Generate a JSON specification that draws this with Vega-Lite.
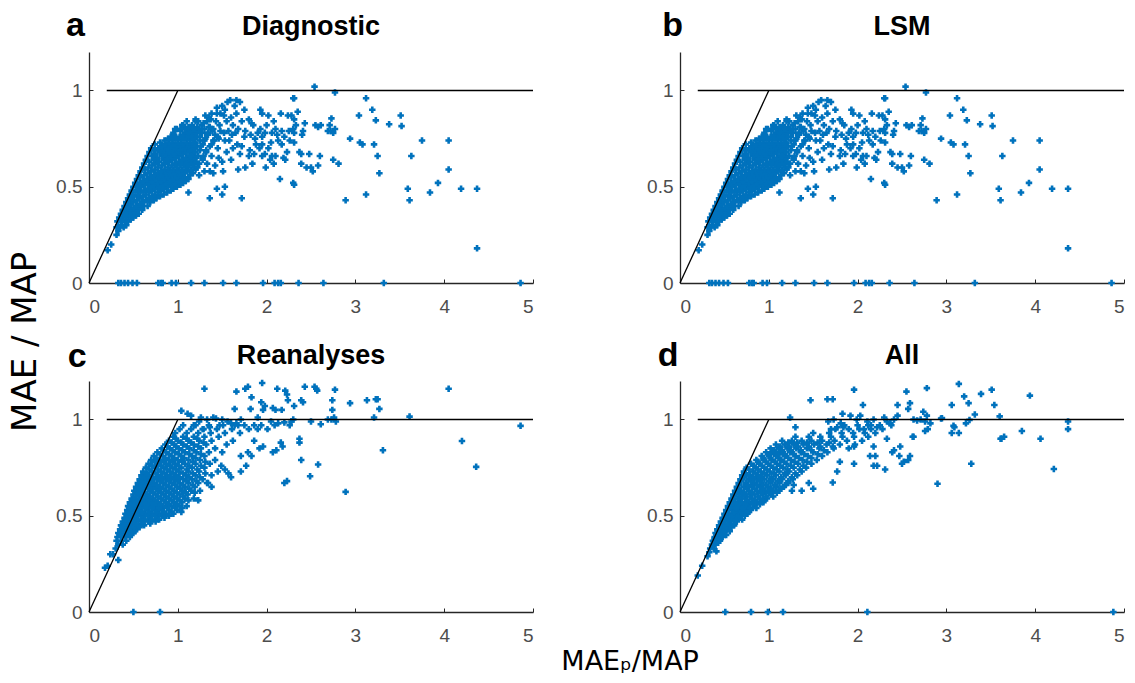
{
"$schema":"https://vega.github.io/schema/vega-lite/v6.json",
"padding":{"left":8,"top":8,"right":2,"bottom":2},
"title":{"text":"MAE / MAP","orient":"left","anchor":"middle","font":"DejaVu Sans","fontSize":34,"fontWeight":"normal","color":"#000000","offset":13},
"config":{
 "view":{"stroke":null},
 "font":"Liberation Sans",
 "axis":{"grid":false,"domainColor":"#262626","domainWidth":1.3,"tickColor":"#262626","tickSize":-4,"labelColor":"#4d4d4d","labelFontSize":19,"labelFont":"Liberation Sans","title":null}
},
"datasets":{
"lines":[{"x":0,"y":0,"x2":1,"y2":1},{"x":0.2,"y":1,"x2":5,"y2":1}],
"labA":[{"t":"a","n":"Diagnostic"}],
"labB":[{"t":"b","n":"LSM"}],
"labC":[{"t":"c","n":"Reanalyses"}],
"labD":[{"t":"d","n":"All"}],
"diag":[
{"x":0.21,"y":0.17},{"x":0.25,"y":0.2},{"x":0.31,"y":0.25},{"x":0.33,"y":0.27},
{"x":0.31,"y":0.29},{"x":0.35,"y":0.29},{"x":0.39,"y":0.29},
{"x":0.33,"y":0.3},{"x":0.37,"y":0.3},{"x":0.42,"y":0.3},
{"x":0.32,"y":0.32},{"x":0.36,"y":0.32},{"x":0.4,"y":0.32},{"x":0.44,"y":0.32},
{"x":0.38,"y":0.33},{"x":0.47,"y":0.33},
{"x":0.34,"y":0.34},{"x":0.42,"y":0.34},{"x":0.5,"y":0.34},
{"x":0.37,"y":0.35},{"x":0.45,"y":0.35},{"x":0.53,"y":0.35},
{"x":0.36,"y":0.36},{"x":0.4,"y":0.36},{"x":0.48,"y":0.36},{"x":0.56,"y":0.36},
{"x":0.43,"y":0.37},{"x":0.51,"y":0.37},
{"x":0.38,"y":0.38},{"x":0.46,"y":0.38},{"x":0.55,"y":0.38},{"x":0.6,"y":0.38},
{"x":0.41,"y":0.39},{"x":0.5,"y":0.39},{"x":0.58,"y":0.39},
{"x":0.4,"y":0.4},{"x":0.44,"y":0.4},{"x":0.53,"y":0.4},{"x":0.62,"y":0.4},{"x":0.66,"y":0.4},
{"x":0.47,"y":0.41},{"x":0.57,"y":0.41},
{"x":0.42,"y":0.42},{"x":0.5,"y":0.42},{"x":0.6,"y":0.42},{"x":0.69,"y":0.42},
{"x":0.45,"y":0.43},{"x":0.54,"y":0.43},{"x":0.64,"y":0.43},{"x":0.73,"y":0.43},
{"x":0.44,"y":0.44},{"x":0.48,"y":0.44},{"x":0.57,"y":0.44},{"x":0.67,"y":0.44},{"x":0.76,"y":0.44},
{"x":0.51,"y":0.45},{"x":0.61,"y":0.45},{"x":0.71,"y":0.45},{"x":0.8,"y":0.45},
{"x":0.46,"y":0.46},{"x":0.55,"y":0.46},{"x":0.64,"y":0.46},{"x":0.74,"y":0.46},{"x":0.84,"y":0.46},
{"x":0.49,"y":0.47},{"x":0.58,"y":0.47},{"x":0.68,"y":0.47},{"x":0.78,"y":0.47},{"x":0.88,"y":0.47},
{"x":0.48,"y":0.48},{"x":0.53,"y":0.48},{"x":0.62,"y":0.48},{"x":0.71,"y":0.48},{"x":0.81,"y":0.48},{"x":0.92,"y":0.48},
{"x":0.56,"y":0.49},{"x":0.66,"y":0.49},{"x":0.75,"y":0.49},{"x":0.85,"y":0.49},{"x":0.95,"y":0.49},
{"x":0.5,"y":0.5},{"x":0.59,"y":0.5},{"x":0.69,"y":0.5},{"x":0.79,"y":0.5},{"x":0.89,"y":0.5},{"x":0.99,"y":0.5},
{"x":0.54,"y":0.51},{"x":0.63,"y":0.51},{"x":0.73,"y":0.51},{"x":0.83,"y":0.51},{"x":0.93,"y":0.51},{"x":1.03,"y":0.51},
{"x":0.52,"y":0.52},{"x":0.57,"y":0.52},{"x":0.67,"y":0.52},{"x":0.77,"y":0.52},{"x":0.87,"y":0.52},{"x":0.97,"y":0.52},{"x":1.06,"y":0.52},
{"x":0.61,"y":0.53},{"x":0.71,"y":0.53},{"x":0.81,"y":0.53},{"x":0.91,"y":0.53},{"x":1.01,"y":0.53},{"x":1.09,"y":0.53},
{"x":0.54,"y":0.54},{"x":0.65,"y":0.54},{"x":0.75,"y":0.54},{"x":0.85,"y":0.54},{"x":0.95,"y":0.54},{"x":1.04,"y":0.54},{"x":1.12,"y":0.54},
{"x":0.58,"y":0.55},{"x":0.69,"y":0.55},{"x":0.79,"y":0.55},{"x":0.89,"y":0.55},{"x":0.99,"y":0.55},{"x":1.08,"y":0.55},
{"x":0.56,"y":0.56},{"x":0.62,"y":0.56},{"x":0.73,"y":0.56},{"x":0.83,"y":0.56},{"x":0.93,"y":0.56},{"x":1.03,"y":0.56},{"x":1.14,"y":0.56},
{"x":0.66,"y":0.57},{"x":0.77,"y":0.57},{"x":0.87,"y":0.57},{"x":0.97,"y":0.57},{"x":1.07,"y":0.57},{"x":1.17,"y":0.57},
{"x":0.58,"y":0.58},{"x":0.7,"y":0.58},{"x":0.81,"y":0.58},{"x":0.91,"y":0.58},{"x":1.01,"y":0.58},{"x":1.11,"y":0.58},
{"x":0.63,"y":0.59},{"x":0.74,"y":0.59},{"x":0.85,"y":0.59},{"x":0.95,"y":0.59},{"x":1.05,"y":0.59},{"x":1.15,"y":0.59},{"x":1.2,"y":0.59},
{"x":0.6,"y":0.6},{"x":0.67,"y":0.6},{"x":0.78,"y":0.6},{"x":0.89,"y":0.6},{"x":0.99,"y":0.6},{"x":1.09,"y":0.6},{"x":1.19,"y":0.6},
{"x":0.71,"y":0.61},{"x":0.82,"y":0.61},{"x":0.93,"y":0.61},{"x":1.03,"y":0.61},{"x":1.13,"y":0.61},
{"x":0.62,"y":0.62},{"x":0.75,"y":0.62},{"x":0.86,"y":0.62},{"x":0.97,"y":0.62},{"x":1.07,"y":0.62},{"x":1.17,"y":0.62},{"x":1.24,"y":0.62},
{"x":0.68,"y":0.63},{"x":0.79,"y":0.63},{"x":0.9,"y":0.63},{"x":1.01,"y":0.63},{"x":1.11,"y":0.63},{"x":1.21,"y":0.63},
{"x":0.64,"y":0.64},{"x":0.73,"y":0.64},{"x":0.84,"y":0.64},{"x":0.94,"y":0.64},{"x":1.05,"y":0.64},{"x":1.15,"y":0.64},
{"x":0.77,"y":0.65},{"x":0.88,"y":0.65},{"x":0.98,"y":0.65},{"x":1.09,"y":0.65},{"x":1.19,"y":0.65},{"x":1.28,"y":0.65},
{"x":0.66,"y":0.66},{"x":0.71,"y":0.66},{"x":0.82,"y":0.66},{"x":0.92,"y":0.66},{"x":1.02,"y":0.66},{"x":1.13,"y":0.66},{"x":1.23,"y":0.66},
{"x":0.75,"y":0.67},{"x":0.86,"y":0.67},{"x":0.96,"y":0.67},{"x":1.06,"y":0.67},{"x":1.16,"y":0.67},
{"x":0.68,"y":0.68},{"x":0.8,"y":0.68},{"x":0.9,"y":0.68},{"x":1.0,"y":0.68},{"x":1.1,"y":0.68},{"x":1.2,"y":0.68},{"x":1.32,"y":0.68},
{"x":0.73,"y":0.69},{"x":0.84,"y":0.69},{"x":0.94,"y":0.69},{"x":1.04,"y":0.69},{"x":1.14,"y":0.69},{"x":1.25,"y":0.69},
{"x":0.7,"y":0.7},{"x":0.78,"y":0.7},{"x":0.88,"y":0.7},{"x":0.98,"y":0.7},{"x":1.08,"y":0.7},{"x":1.18,"y":0.7},
{"x":0.82,"y":0.71},{"x":0.92,"y":0.71},{"x":1.02,"y":0.71},{"x":1.12,"y":0.71},{"x":1.22,"y":0.71},{"x":1.36,"y":0.71},
{"x":0.74,"y":0.72},{"x":0.86,"y":0.72},{"x":0.96,"y":0.72},{"x":1.06,"y":0.72},{"x":1.16,"y":0.72},{"x":1.28,"y":0.72},
{"x":0.8,"y":0.73},{"x":0.9,"y":0.73},{"x":1.0,"y":0.73},{"x":1.1,"y":0.73},{"x":1.2,"y":0.73},
{"x":0.85,"y":0.74},{"x":0.94,"y":0.74},{"x":1.04,"y":0.74},{"x":1.14,"y":0.74},{"x":1.25,"y":0.74},{"x":1.4,"y":0.74},
{"x":0.89,"y":0.75},{"x":0.98,"y":0.75},{"x":1.08,"y":0.75},{"x":1.18,"y":0.75},{"x":1.31,"y":0.75},
{"x":0.92,"y":0.76},{"x":1.02,"y":0.76},{"x":1.12,"y":0.76},{"x":1.22,"y":0.76},{"x":1.45,"y":0.76},
{"x":0.96,"y":0.77},{"x":1.06,"y":0.77},{"x":1.16,"y":0.77},{"x":1.34,"y":0.77},
{"x":0.95,"y":0.78},{"x":1.1,"y":0.78},{"x":1.2,"y":0.78},{"x":1.27,"y":0.78},
{"x":1.03,"y":0.79},{"x":1.14,"y":0.79},{"x":1.24,"y":0.79},{"x":1.39,"y":0.79},
{"x":0.99,"y":0.8},{"x":1.08,"y":0.8},{"x":1.18,"y":0.8},{"x":1.3,"y":0.8},
{"x":1.12,"y":0.81},{"x":1.22,"y":0.81},{"x":1.35,"y":0.81},
{"x":1.05,"y":0.82},{"x":1.16,"y":0.82},{"x":1.27,"y":0.82},
{"x":1.1,"y":0.84},{"x":1.2,"y":0.84},{"x":1.33,"y":0.84},
{"x":1.59,"y":0.95},{"x":1.66,"y":0.95},{"x":1.7,"y":0.94},{"x":1.5,"y":0.92},{"x":1.53,"y":0.9},{"x":1.48,"y":0.88},{"x":1.52,"y":0.87},{"x":1.44,"y":0.91},{"x":1.44,"y":0.88},{"x":1.93,"y":0.9},{"x":1.95,"y":0.88},{"x":2.02,"y":0.87},{"x":2.16,"y":0.88},{"x":2.3,"y":0.96},{"x":2.24,"y":0.87},{"x":2.28,"y":0.87},{"x":1.31,"y":0.87},{"x":1.35,"y":0.86},{"x":1.38,"y":0.88},{"x":1.2,"y":0.85},{"x":1.23,"y":0.84},{"x":1.8,"y":0.85},{"x":1.83,"y":0.83},{"x":1.29,"y":0.83},{"x":1.36,"y":0.81},{"x":1.18,"y":0.8},{"x":1.12,"y":0.78},{"x":1.06,"y":0.82},{"x":0.97,"y":0.8},{"x":1.03,"y":0.8},{"x":1.57,"y":0.79},{"x":1.65,"y":0.78},{"x":1.61,"y":0.77},{"x":1.93,"y":0.8},{"x":1.98,"y":0.78},{"x":1.95,"y":0.76},{"x":2.1,"y":0.8},{"x":2.17,"y":0.79},{"x":2.25,"y":0.79},{"x":2.3,"y":0.8},{"x":1.76,"y":0.79},{"x":1.82,"y":0.77},{"x":1.87,"y":0.75},{"x":2.06,"y":0.78},{"x":2.12,"y":0.77},{"x":1.46,"y":0.75},{"x":1.53,"y":0.74},{"x":1.67,"y":0.72},{"x":1.72,"y":0.71},{"x":1.95,"y":0.72},{"x":2.02,"y":0.7},{"x":2.17,"y":0.72},{"x":2.23,"y":0.68},{"x":1.81,"y":0.69},{"x":1.8,"y":0.66},{"x":1.95,"y":0.66},{"x":2.04,"y":0.64},{"x":2.06,"y":0.66},{"x":2.19,"y":0.65},{"x":2.21,"y":0.64},{"x":2.1,"y":0.66},{"x":1.84,"y":0.62},{"x":1.76,"y":0.6},{"x":1.68,"y":0.59},{"x":2.15,"y":0.54},{"x":2.3,"y":0.52},{"x":1.98,"y":0.67},{"x":1.46,"y":0.65},{"x":1.5,"y":0.63},{"x":1.29,"y":0.66},{"x":1.36,"y":0.58},{"x":1.4,"y":0.57},{"x":1.51,"y":0.58},{"x":1.44,"y":0.49},{"x":1.53,"y":0.5},{"x":1.12,"y":0.47},{"x":1.36,"y":0.44},{"x":1.5,"y":0.46},{"x":1.72,"y":0.44},{"x":1.01,"y":0.68},{"x":1.03,"y":0.69},
{"x":1.25,"y":0.76},{"x":1.3,"y":0.74},{"x":1.34,"y":0.78},{"x":1.4,"y":0.8},{"x":1.42,"y":0.77},{"x":1.47,"y":0.82},{"x":1.55,"y":0.84},{"x":1.6,"y":0.86},{"x":1.62,"y":0.82},{"x":1.68,"y":0.8},{"x":1.72,"y":0.84},{"x":1.75,"y":0.76},{"x":1.58,"y":0.74},{"x":1.62,"y":0.7},{"x":1.55,"y":0.68},{"x":1.45,"y":0.7},{"x":1.38,"y":0.72},{"x":1.32,"y":0.69},{"x":1.26,"y":0.71},{"x":1.28,"y":0.64},{"x":1.33,"y":0.62},{"x":1.22,"y":0.6},{"x":1.24,"y":0.56},{"x":1.3,"y":0.58},{"x":1.42,"y":0.61},{"x":1.38,"y":0.66},{"x":1.52,"y":0.78},{"x":1.43,"y":0.84},{"x":1.37,"y":0.85},{"x":1.66,"y":0.88},{"x":1.75,"y":0.9},{"x":1.85,"y":0.82},{"x":1.9,"y":0.78},{"x":1.88,"y":0.72},{"x":1.7,"y":0.67},{"x":1.6,"y":0.64},{"x":1.64,"y":0.92},{"x":1.56,"y":0.94},{"x":1.48,"y":0.79},{"x":1.27,"y":0.8},{"x":1.33,"y":0.77},{"x":1.41,"y":0.74},{"x":1.18,"y":0.72},{"x":1.15,"y":0.66},{"x":1.1,"y":0.62},{"x":2.0,"y":0.82},{"x":2.08,"y":0.84},{"x":2.13,"y":0.74},{"x":2.2,"y":0.76},{"x":2.26,"y":0.74},{"x":2.05,"y":0.73},{"x":1.92,"y":0.7},{"x":1.86,"y":0.67},{"x":1.99,"y":0.6},{"x":2.08,"y":0.62},
{"x":2.54,"y":1.02},{"x":2.77,"y":0.99},{"x":2.31,"y":0.96},{"x":3.12,"y":0.96},{"x":2.35,"y":0.89},{"x":3.19,"y":0.9},{"x":2.31,"y":0.85},{"x":3.04,"y":0.87},{"x":3.51,"y":0.87},{"x":2.73,"y":0.855},{"x":3.23,"y":0.845},{"x":2.43,"y":0.83},{"x":2.33,"y":0.82},{"x":2.55,"y":0.82},{"x":2.58,"y":0.81},{"x":2.61,"y":0.82},{"x":2.71,"y":0.82},{"x":2.72,"y":0.79},{"x":2.75,"y":0.78},{"x":2.77,"y":0.8},{"x":2.69,"y":0.79},{"x":3.38,"y":0.825},{"x":3.52,"y":0.815},{"x":2.31,"y":0.78},{"x":2.41,"y":0.79},{"x":2.4,"y":0.77},{"x":2.31,"y":0.73},{"x":2.94,"y":0.75},{"x":3.05,"y":0.73},{"x":3.08,"y":0.72},{"x":3.21,"y":0.72},{"x":3.75,"y":0.74},{"x":4.05,"y":0.74},{"x":2.37,"y":0.68},{"x":2.39,"y":0.67},{"x":2.48,"y":0.67},{"x":2.6,"y":0.66},{"x":3.25,"y":0.66},{"x":3.63,"y":0.66},{"x":2.39,"y":0.62},{"x":2.45,"y":0.6},{"x":2.5,"y":0.6},{"x":2.52,"y":0.58},{"x":2.58,"y":0.61},{"x":2.75,"y":0.64},{"x":2.81,"y":0.62},{"x":3.27,"y":0.57},{"x":4.05,"y":0.59},{"x":3.93,"y":0.52},{"x":2.31,"y":0.51},{"x":3.59,"y":0.49},{"x":4.19,"y":0.49},{"x":4.37,"y":0.49},{"x":3.84,"y":0.47},{"x":3.12,"y":0.46},{"x":2.89,"y":0.43},{"x":3.61,"y":0.43},{"x":4.37,"y":0.18},
{"x":0.33,"y":0},{"x":0.36,"y":0},{"x":0.4,"y":0},{"x":0.44,"y":0},{"x":0.49,"y":0},{"x":0.54,"y":0},{"x":0.78,"y":0},{"x":0.81,"y":0},{"x":0.83,"y":0},{"x":0.93,"y":0},{"x":0.98,"y":0},{"x":1.15,"y":0},{"x":1.3,"y":0},{"x":1.51,"y":0},{"x":1.66,"y":0},{"x":1.96,"y":0},{"x":2.09,"y":0},{"x":2.13,"y":0},{"x":2.16,"y":0},{"x":2.36,"y":0},{"x":2.64,"y":0},{"x":3.32,"y":0},{"x":4.86,"y":0}
],
"rean":[
{"x":0.18,"y":0.23},{"x":0.21,"y":0.24},{"x":0.33,"y":0.27},{"x":0.24,"y":0.3},{"x":0.27,"y":0.3},{"x":0.3,"y":0.33},
{"x":0.33,"y":0.35},{"x":0.38,"y":0.35},
{"x":0.31,"y":0.37},{"x":0.36,"y":0.37},{"x":0.42,"y":0.37},
{"x":0.32,"y":0.39},{"x":0.37,"y":0.39},{"x":0.41,"y":0.39},{"x":0.46,"y":0.39},
{"x":0.33,"y":0.41},{"x":0.38,"y":0.41},{"x":0.44,"y":0.41},{"x":0.5,"y":0.41},
{"x":0.35,"y":0.43},{"x":0.4,"y":0.43},{"x":0.47,"y":0.43},{"x":0.53,"y":0.43},
{"x":0.36,"y":0.45},{"x":0.42,"y":0.45},{"x":0.49,"y":0.45},{"x":0.56,"y":0.45},{"x":0.62,"y":0.45},
{"x":0.38,"y":0.47},{"x":0.44,"y":0.47},{"x":0.51,"y":0.47},{"x":0.59,"y":0.47},{"x":0.67,"y":0.47},{"x":0.75,"y":0.47},
{"x":0.4,"y":0.49},{"x":0.46,"y":0.49},{"x":0.53,"y":0.49},{"x":0.61,"y":0.49},{"x":0.69,"y":0.49},{"x":0.77,"y":0.49},
{"x":0.41,"y":0.51},{"x":0.48,"y":0.51},{"x":0.55,"y":0.51},{"x":0.63,"y":0.51},{"x":0.71,"y":0.51},{"x":0.79,"y":0.51},{"x":0.87,"y":0.51},{"x":0.95,"y":0.51},
{"x":0.43,"y":0.53},{"x":0.5,"y":0.53},{"x":0.58,"y":0.53},{"x":0.66,"y":0.53},{"x":0.74,"y":0.53},{"x":0.82,"y":0.53},{"x":0.9,"y":0.53},{"x":0.99,"y":0.53},
{"x":0.44,"y":0.55},{"x":0.52,"y":0.55},{"x":0.6,"y":0.55},{"x":0.68,"y":0.55},{"x":0.76,"y":0.55},{"x":0.84,"y":0.55},{"x":0.93,"y":0.55},{"x":1.02,"y":0.55},{"x":1.1,"y":0.55},
{"x":0.46,"y":0.57},{"x":0.54,"y":0.57},{"x":0.62,"y":0.57},{"x":0.7,"y":0.57},{"x":0.78,"y":0.57},{"x":0.87,"y":0.57},{"x":0.96,"y":0.57},{"x":1.05,"y":0.57},
{"x":0.48,"y":0.59},{"x":0.56,"y":0.59},{"x":0.64,"y":0.59},{"x":0.72,"y":0.59},{"x":0.81,"y":0.59},{"x":0.9,"y":0.59},{"x":0.99,"y":0.59},{"x":1.08,"y":0.59},{"x":1.18,"y":0.59},
{"x":0.5,"y":0.61},{"x":0.58,"y":0.61},{"x":0.66,"y":0.61},{"x":0.75,"y":0.61},{"x":0.84,"y":0.61},{"x":0.93,"y":0.61},{"x":1.02,"y":0.61},{"x":1.11,"y":0.61},
{"x":0.51,"y":0.63},{"x":0.6,"y":0.63},{"x":0.69,"y":0.63},{"x":0.78,"y":0.63},{"x":0.87,"y":0.63},{"x":0.96,"y":0.63},{"x":1.05,"y":0.63},{"x":1.15,"y":0.63},{"x":1.25,"y":0.63},
{"x":0.53,"y":0.65},{"x":0.62,"y":0.65},{"x":0.71,"y":0.65},{"x":0.8,"y":0.65},{"x":0.9,"y":0.65},{"x":0.99,"y":0.65},{"x":1.08,"y":0.65},{"x":1.19,"y":0.65},
{"x":0.55,"y":0.67},{"x":0.64,"y":0.67},{"x":0.73,"y":0.67},{"x":0.83,"y":0.67},{"x":0.93,"y":0.67},{"x":1.02,"y":0.67},{"x":1.12,"y":0.67},{"x":1.23,"y":0.67},{"x":1.33,"y":0.67},
{"x":0.57,"y":0.69},{"x":0.66,"y":0.69},{"x":0.76,"y":0.69},{"x":0.86,"y":0.69},{"x":0.96,"y":0.69},{"x":1.06,"y":0.69},{"x":1.16,"y":0.69},{"x":1.28,"y":0.69},
{"x":0.59,"y":0.71},{"x":0.68,"y":0.71},{"x":0.78,"y":0.71},{"x":0.88,"y":0.71},{"x":0.98,"y":0.71},{"x":1.09,"y":0.71},{"x":1.2,"y":0.71},{"x":1.38,"y":0.71},
{"x":0.61,"y":0.73},{"x":0.71,"y":0.73},{"x":0.81,"y":0.73},{"x":0.91,"y":0.73},{"x":1.01,"y":0.73},{"x":1.12,"y":0.73},{"x":1.24,"y":0.73},{"x":1.45,"y":0.73},
{"x":0.64,"y":0.75},{"x":0.74,"y":0.75},{"x":0.84,"y":0.75},{"x":0.94,"y":0.75},{"x":1.04,"y":0.75},{"x":1.16,"y":0.75},{"x":1.3,"y":0.75},
{"x":0.67,"y":0.77},{"x":0.77,"y":0.77},{"x":0.87,"y":0.77},{"x":0.97,"y":0.77},{"x":1.08,"y":0.77},{"x":1.2,"y":0.77},{"x":1.36,"y":0.77},
{"x":0.7,"y":0.79},{"x":0.8,"y":0.79},{"x":0.9,"y":0.79},{"x":1.0,"y":0.79},{"x":1.12,"y":0.79},{"x":1.25,"y":0.79},{"x":1.42,"y":0.79},
{"x":0.73,"y":0.81},{"x":0.83,"y":0.81},{"x":0.93,"y":0.81},{"x":1.04,"y":0.81},{"x":1.16,"y":0.81},{"x":1.3,"y":0.81},
{"x":0.77,"y":0.83},{"x":0.87,"y":0.83},{"x":0.97,"y":0.83},{"x":1.08,"y":0.83},{"x":1.21,"y":0.83},{"x":1.35,"y":0.83},{"x":1.5,"y":0.83},
{"x":0.82,"y":0.85},{"x":0.91,"y":0.85},{"x":1.01,"y":0.85},{"x":1.13,"y":0.85},{"x":1.26,"y":0.85},{"x":1.42,"y":0.85},
{"x":0.86,"y":0.87},{"x":0.96,"y":0.87},{"x":1.06,"y":0.87},{"x":1.18,"y":0.87},{"x":1.32,"y":0.87},{"x":1.55,"y":0.87},
{"x":0.9,"y":0.89},{"x":1.0,"y":0.89},{"x":1.12,"y":0.89},{"x":1.24,"y":0.89},{"x":1.38,"y":0.89},{"x":1.62,"y":0.89},
{"x":0.95,"y":0.91},{"x":1.06,"y":0.91},{"x":1.18,"y":0.91},{"x":1.3,"y":0.91},{"x":1.46,"y":0.91},
{"x":0.97,"y":0.93},{"x":1.1,"y":0.93},{"x":1.23,"y":0.93},{"x":1.37,"y":0.93},{"x":1.53,"y":0.93},{"x":1.7,"y":0.93},
{"x":1.02,"y":0.95},{"x":1.15,"y":0.95},{"x":1.29,"y":0.95},{"x":1.44,"y":0.95},{"x":1.61,"y":0.95},
{"x":1.06,"y":0.97},{"x":1.2,"y":0.97},{"x":1.35,"y":0.97},{"x":1.51,"y":0.97},{"x":1.68,"y":0.97},
{"x":0.35,"y":0.4},{"x":0.4,"y":0.4},{"x":0.46,"y":0.4},
{"x":0.36,"y":0.42},{"x":0.42,"y":0.42},{"x":0.48,"y":0.42},{"x":0.52,"y":0.42},
{"x":0.38,"y":0.44},{"x":0.44,"y":0.44},{"x":0.51,"y":0.44},{"x":0.57,"y":0.44},
{"x":0.4,"y":0.46},{"x":0.46,"y":0.46},{"x":0.53,"y":0.46},{"x":0.61,"y":0.46},{"x":0.69,"y":0.46},
{"x":0.41,"y":0.48},{"x":0.48,"y":0.48},{"x":0.55,"y":0.48},{"x":0.63,"y":0.48},{"x":0.71,"y":0.48},{"x":0.79,"y":0.48},
{"x":0.43,"y":0.5},{"x":0.5,"y":0.5},{"x":0.58,"y":0.5},{"x":0.66,"y":0.5},{"x":0.74,"y":0.5},{"x":0.82,"y":0.5},{"x":0.9,"y":0.5},
{"x":0.45,"y":0.52},{"x":0.52,"y":0.52},{"x":0.6,"y":0.52},{"x":0.68,"y":0.52},{"x":0.76,"y":0.52},{"x":0.84,"y":0.52},{"x":0.93,"y":0.52},
{"x":0.47,"y":0.54},{"x":0.55,"y":0.54},{"x":0.63,"y":0.54},{"x":0.71,"y":0.54},{"x":0.79,"y":0.54},{"x":0.88,"y":0.54},{"x":0.97,"y":0.54},{"x":1.05,"y":0.54},
{"x":0.49,"y":0.56},{"x":0.57,"y":0.56},{"x":0.65,"y":0.56},{"x":0.73,"y":0.56},{"x":0.81,"y":0.56},{"x":0.9,"y":0.56},{"x":0.99,"y":0.56},
{"x":0.51,"y":0.58},{"x":0.59,"y":0.58},{"x":0.67,"y":0.58},{"x":0.75,"y":0.58},{"x":0.84,"y":0.58},{"x":0.93,"y":0.58},{"x":1.02,"y":0.58},{"x":1.12,"y":0.58},
{"x":0.53,"y":0.6},{"x":0.61,"y":0.6},{"x":0.69,"y":0.6},{"x":0.78,"y":0.6},{"x":0.87,"y":0.6},{"x":0.96,"y":0.6},{"x":1.06,"y":0.6},
{"x":0.55,"y":0.62},{"x":0.63,"y":0.62},{"x":0.72,"y":0.62},{"x":0.81,"y":0.62},{"x":0.9,"y":0.62},{"x":0.99,"y":0.62},{"x":1.09,"y":0.62},{"x":1.19,"y":0.62},
{"x":0.57,"y":0.64},{"x":0.66,"y":0.64},{"x":0.75,"y":0.64},{"x":0.84,"y":0.64},{"x":0.93,"y":0.64},{"x":1.03,"y":0.64},{"x":1.13,"y":0.64},
{"x":0.59,"y":0.66},{"x":0.68,"y":0.66},{"x":0.77,"y":0.66},{"x":0.87,"y":0.66},{"x":0.97,"y":0.66},{"x":1.06,"y":0.66},{"x":1.17,"y":0.66},
{"x":0.61,"y":0.68},{"x":0.7,"y":0.68},{"x":0.8,"y":0.68},{"x":0.9,"y":0.68},{"x":1.0,"y":0.68},{"x":1.1,"y":0.68},{"x":1.21,"y":0.68},
{"x":0.63,"y":0.7},{"x":0.72,"y":0.7},{"x":0.82,"y":0.7},{"x":0.92,"y":0.7},{"x":1.02,"y":0.7},{"x":1.13,"y":0.7},{"x":1.25,"y":0.7},
{"x":0.65,"y":0.72},{"x":0.75,"y":0.72},{"x":0.85,"y":0.72},{"x":0.95,"y":0.72},{"x":1.06,"y":0.72},{"x":1.17,"y":0.72},{"x":1.31,"y":0.72},
{"x":0.68,"y":0.74},{"x":0.78,"y":0.74},{"x":0.88,"y":0.74},{"x":0.98,"y":0.74},{"x":1.1,"y":0.74},{"x":1.22,"y":0.74},
{"x":0.71,"y":0.76},{"x":0.81,"y":0.76},{"x":0.91,"y":0.76},{"x":1.01,"y":0.76},{"x":1.13,"y":0.76},{"x":1.26,"y":0.76},
{"x":0.74,"y":0.78},{"x":0.84,"y":0.78},{"x":0.94,"y":0.78},{"x":1.05,"y":0.78},{"x":1.17,"y":0.78},{"x":1.31,"y":0.78},
{"x":0.76,"y":0.8},{"x":0.86,"y":0.8},{"x":0.96,"y":0.8},{"x":1.07,"y":0.8},{"x":1.2,"y":0.8},
{"x":0.8,"y":0.82},{"x":0.9,"y":0.82},{"x":1.01,"y":0.82},{"x":1.13,"y":0.82},{"x":1.26,"y":0.82},
{"x":0.84,"y":0.84},{"x":0.94,"y":0.84},{"x":1.05,"y":0.84},{"x":1.18,"y":0.84},
{"x":0.88,"y":0.86},{"x":0.98,"y":0.86},{"x":1.1,"y":0.86},{"x":1.23,"y":0.86},
{"x":0.93,"y":0.88},{"x":1.04,"y":0.88},{"x":1.15,"y":0.88},{"x":1.29,"y":0.88},
{"x":0.98,"y":0.9},{"x":1.1,"y":0.9},{"x":1.22,"y":0.9},
{"x":1.3,"y":1.16},{"x":1.95,"y":1.19},{"x":1.66,"y":1.145},{"x":1.76,"y":1.16},{"x":1.79,"y":1.17},{"x":1.83,"y":1.115},{"x":2.12,"y":1.16},{"x":2.21,"y":1.15},{"x":2.23,"y":1.13},{"x":2.43,"y":1.17},{"x":2.54,"y":1.17},{"x":2.56,"y":1.16},{"x":2.57,"y":1.15},{"x":2.77,"y":1.155},{"x":2.24,"y":1.1},{"x":2.39,"y":1.1},{"x":2.41,"y":1.09},{"x":2.74,"y":1.1},{"x":2.74,"y":1.05},{"x":2.94,"y":1.085},{"x":3.13,"y":1.1},{"x":3.23,"y":1.105},{"x":3.25,"y":1.105},{"x":3.27,"y":1.055},{"x":4.05,"y":1.16},{"x":3.61,"y":1.015},{"x":3.21,"y":1.01},{"x":4.86,"y":0.967},{"x":4.2,"y":0.888},{"x":3.31,"y":0.84},{"x":4.36,"y":0.754},{"x":2.89,"y":0.624},{"x":2.58,"y":0.766},{"x":2.49,"y":0.705},{"x":2.39,"y":0.79},{"x":2.37,"y":0.9},{"x":2.37,"y":0.88},{"x":2.2,"y":0.67},{"x":2.23,"y":0.68},{"x":2.61,"y":0.975},{"x":2.5,"y":0.99},{"x":1.94,"y":1.09},{"x":1.98,"y":1.07},{"x":1.96,"y":1.05},{"x":2.07,"y":1.06},{"x":2.1,"y":1.05},{"x":2.17,"y":1.05},{"x":2.31,"y":1.07},{"x":1.64,"y":1.055},{"x":1.82,"y":1.055},{"x":1.04,"y":1.045},{"x":1.11,"y":1.03},{"x":1.26,"y":1.01},{"x":1.43,"y":1.005},{"x":2.69,"y":1.0},{"x":2.73,"y":1.0},{"x":2.76,"y":1.01},{"x":2.78,"y":0.99},{"x":2.3,"y":1.0},{"x":2.28,"y":0.99},{"x":2.2,"y":0.985},{"x":2.26,"y":0.97},{"x":2.09,"y":0.97},{"x":2.01,"y":0.95},{"x":1.86,"y":0.97},{"x":1.9,"y":0.95},{"x":1.94,"y":0.97},{"x":2.05,"y":0.99},{"x":2.13,"y":0.98},{"x":1.71,"y":1.0},{"x":1.66,"y":0.98},{"x":1.75,"y":0.97},{"x":1.8,"y":0.95},{"x":1.9,"y":1.01},{"x":1.56,"y":0.99},{"x":1.6,"y":0.98},{"x":1.64,"y":0.97},{"x":1.86,"y":0.89},{"x":1.92,"y":0.85},{"x":1.96,"y":0.86},{"x":1.79,"y":0.83},{"x":1.83,"y":0.81},{"x":1.71,"y":0.81},{"x":1.77,"y":0.76},{"x":1.71,"y":0.73},{"x":1.49,"y":0.76},{"x":1.53,"y":0.74},{"x":1.57,"y":0.72},{"x":1.6,"y":0.7},{"x":1.34,"y":0.67},{"x":1.38,"y":0.65},{"x":1.23,"y":0.58},{"x":1.04,"y":0.52},{"x":0.85,"y":0.49},{"x":2.07,"y":0.83},{"x":2.11,"y":0.84},{"x":2.16,"y":0.88},{"x":2.18,"y":0.86},
{"x":1.15,"y":1.02},{"x":1.24,"y":0.99},{"x":1.33,"y":1.0},{"x":1.4,"y":1.01},{"x":1.5,"y":1.0},{"x":1.47,"y":0.97},{"x":1.36,"y":0.96},{"x":1.28,"y":0.95},{"x":1.18,"y":0.97},
{"x":0.5,"y":0},{"x":0.8,"y":0}
],
"all":[
{"x":0.2,"y":0.19},{"x":0.25,"y":0.24},{"x":0.31,"y":0.29},{"x":0.33,"y":0.31},{"x":0.41,"y":0.315},
{"x":0.34,"y":0.33},{"x":0.38,"y":0.33},
{"x":0.36,"y":0.35},{"x":0.4,"y":0.35},
{"x":0.37,"y":0.37},{"x":0.41,"y":0.37},{"x":0.45,"y":0.37},
{"x":0.39,"y":0.39},{"x":0.43,"y":0.39},{"x":0.48,"y":0.39},
{"x":0.4,"y":0.41},{"x":0.45,"y":0.41},{"x":0.5,"y":0.41},
{"x":0.42,"y":0.43},{"x":0.47,"y":0.43},{"x":0.53,"y":0.43},
{"x":0.44,"y":0.45},{"x":0.49,"y":0.45},{"x":0.55,"y":0.45},{"x":0.61,"y":0.45},
{"x":0.46,"y":0.47},{"x":0.51,"y":0.47},{"x":0.57,"y":0.47},{"x":0.64,"y":0.47},
{"x":0.48,"y":0.49},{"x":0.53,"y":0.49},{"x":0.6,"y":0.49},{"x":0.67,"y":0.49},
{"x":0.5,"y":0.51},{"x":0.55,"y":0.51},{"x":0.62,"y":0.51},{"x":0.7,"y":0.51},{"x":0.76,"y":0.51},
{"x":0.52,"y":0.53},{"x":0.58,"y":0.53},{"x":0.65,"y":0.53},{"x":0.73,"y":0.53},{"x":0.8,"y":0.53},
{"x":0.54,"y":0.55},{"x":0.6,"y":0.55},{"x":0.67,"y":0.55},{"x":0.75,"y":0.55},{"x":0.84,"y":0.55},
{"x":0.56,"y":0.57},{"x":0.62,"y":0.57},{"x":0.7,"y":0.57},{"x":0.78,"y":0.57},{"x":0.87,"y":0.57},{"x":0.94,"y":0.57},
{"x":0.58,"y":0.59},{"x":0.65,"y":0.59},{"x":0.73,"y":0.59},{"x":0.81,"y":0.59},{"x":0.9,"y":0.59},{"x":0.98,"y":0.59},
{"x":0.6,"y":0.61},{"x":0.67,"y":0.61},{"x":0.75,"y":0.61},{"x":0.84,"y":0.61},{"x":0.93,"y":0.61},{"x":1.02,"y":0.61},
{"x":0.62,"y":0.63},{"x":0.69,"y":0.63},{"x":0.78,"y":0.63},{"x":0.87,"y":0.63},{"x":0.96,"y":0.63},{"x":1.05,"y":0.63},{"x":1.12,"y":0.63},
{"x":0.64,"y":0.65},{"x":0.72,"y":0.65},{"x":0.81,"y":0.65},{"x":0.9,"y":0.65},{"x":0.99,"y":0.65},{"x":1.08,"y":0.65},{"x":1.17,"y":0.65},
{"x":0.66,"y":0.67},{"x":0.74,"y":0.67},{"x":0.83,"y":0.67},{"x":0.92,"y":0.67},{"x":1.02,"y":0.67},{"x":1.12,"y":0.67},{"x":1.22,"y":0.67},
{"x":0.68,"y":0.69},{"x":0.77,"y":0.69},{"x":0.86,"y":0.69},{"x":0.95,"y":0.69},{"x":1.05,"y":0.69},{"x":1.15,"y":0.69},{"x":1.27,"y":0.69},
{"x":0.7,"y":0.71},{"x":0.79,"y":0.71},{"x":0.88,"y":0.71},{"x":0.98,"y":0.71},{"x":1.08,"y":0.71},{"x":1.19,"y":0.71},{"x":1.32,"y":0.71},
{"x":0.72,"y":0.73},{"x":0.82,"y":0.73},{"x":0.91,"y":0.73},{"x":1.01,"y":0.73},{"x":1.12,"y":0.73},{"x":1.23,"y":0.73},{"x":1.37,"y":0.73},
{"x":0.75,"y":0.75},{"x":0.85,"y":0.75},{"x":0.95,"y":0.75},{"x":1.05,"y":0.75},{"x":1.16,"y":0.75},{"x":1.28,"y":0.75},{"x":1.42,"y":0.75},
{"x":0.8,"y":0.77},{"x":0.89,"y":0.77},{"x":0.99,"y":0.77},{"x":1.09,"y":0.77},{"x":1.2,"y":0.77},{"x":1.33,"y":0.77},{"x":1.48,"y":0.77},
{"x":0.86,"y":0.79},{"x":0.94,"y":0.79},{"x":1.03,"y":0.79},{"x":1.13,"y":0.79},{"x":1.25,"y":0.79},{"x":1.38,"y":0.79},{"x":1.54,"y":0.79},
{"x":0.92,"y":0.81},{"x":1.0,"y":0.81},{"x":1.08,"y":0.81},{"x":1.18,"y":0.81},{"x":1.3,"y":0.81},{"x":1.44,"y":0.81},{"x":1.6,"y":0.81},
{"x":0.97,"y":0.83},{"x":1.05,"y":0.83},{"x":1.14,"y":0.83},{"x":1.24,"y":0.83},{"x":1.36,"y":0.83},{"x":1.5,"y":0.83},{"x":1.66,"y":0.83},
{"x":1.02,"y":0.85},{"x":1.11,"y":0.85},{"x":1.21,"y":0.85},{"x":1.31,"y":0.85},{"x":1.43,"y":0.85},{"x":1.57,"y":0.85},{"x":1.73,"y":0.85},{"x":1.9,"y":0.85},
{"x":1.08,"y":0.87},{"x":1.18,"y":0.87},{"x":1.28,"y":0.87},{"x":1.39,"y":0.87},{"x":1.51,"y":0.87},{"x":1.65,"y":0.87},{"x":1.8,"y":0.87},{"x":1.97,"y":0.87},
{"x":1.15,"y":0.89},{"x":1.26,"y":0.89},{"x":1.37,"y":0.89},{"x":1.48,"y":0.89},{"x":1.6,"y":0.89},{"x":1.74,"y":0.89},{"x":1.88,"y":0.89},{"x":2.05,"y":0.89},
{"x":1.3,"y":0.91},{"x":1.45,"y":0.91},{"x":1.58,"y":0.91},{"x":1.7,"y":0.91},{"x":1.83,"y":0.91},{"x":1.96,"y":0.91},{"x":2.12,"y":0.91},
{"x":1.5,"y":0.93},{"x":1.68,"y":0.93},{"x":1.82,"y":0.93},{"x":1.95,"y":0.93},{"x":2.08,"y":0.93},{"x":2.2,"y":0.93},
{"x":1.75,"y":0.95},{"x":1.9,"y":0.95},{"x":2.02,"y":0.95},{"x":2.15,"y":0.95},{"x":2.28,"y":0.95},
{"x":1.85,"y":0.97},{"x":2.0,"y":0.97},{"x":2.12,"y":0.97},{"x":2.25,"y":0.97},{"x":2.38,"y":0.97},
{"x":0.38,"y":0.36},{"x":0.43,"y":0.36},
{"x":0.39,"y":0.38},{"x":0.45,"y":0.38},
{"x":0.41,"y":0.4},{"x":0.47,"y":0.4},{"x":0.52,"y":0.4},
{"x":0.43,"y":0.42},{"x":0.49,"y":0.42},{"x":0.56,"y":0.42},
{"x":0.45,"y":0.44},{"x":0.52,"y":0.44},{"x":0.58,"y":0.44},
{"x":0.47,"y":0.46},{"x":0.54,"y":0.46},{"x":0.61,"y":0.46},
{"x":0.49,"y":0.48},{"x":0.56,"y":0.48},{"x":0.63,"y":0.48},{"x":0.7,"y":0.48},
{"x":0.51,"y":0.5},{"x":0.58,"y":0.5},{"x":0.66,"y":0.5},{"x":0.73,"y":0.5},
{"x":0.53,"y":0.52},{"x":0.61,"y":0.52},{"x":0.69,"y":0.52},{"x":0.77,"y":0.52},
{"x":0.55,"y":0.54},{"x":0.63,"y":0.54},{"x":0.71,"y":0.54},{"x":0.79,"y":0.54},{"x":0.86,"y":0.54},
{"x":0.57,"y":0.56},{"x":0.65,"y":0.56},{"x":0.74,"y":0.56},{"x":0.82,"y":0.56},{"x":0.9,"y":0.56},
{"x":0.59,"y":0.58},{"x":0.67,"y":0.58},{"x":0.76,"y":0.58},{"x":0.85,"y":0.58},{"x":0.94,"y":0.58},
{"x":0.61,"y":0.6},{"x":0.7,"y":0.6},{"x":0.79,"y":0.6},{"x":0.88,"y":0.6},{"x":0.97,"y":0.6},{"x":1.05,"y":0.6},
{"x":0.63,"y":0.62},{"x":0.72,"y":0.62},{"x":0.81,"y":0.62},{"x":0.91,"y":0.62},{"x":1.0,"y":0.62},{"x":1.09,"y":0.62},
{"x":0.65,"y":0.64},{"x":0.75,"y":0.64},{"x":0.84,"y":0.64},{"x":0.94,"y":0.64},{"x":1.03,"y":0.64},{"x":1.13,"y":0.64},
{"x":0.67,"y":0.66},{"x":0.77,"y":0.66},{"x":0.87,"y":0.66},{"x":0.97,"y":0.66},{"x":1.07,"y":0.66},{"x":1.18,"y":0.66},
{"x":0.69,"y":0.68},{"x":0.8,"y":0.68},{"x":0.9,"y":0.68},{"x":1.0,"y":0.68},{"x":1.1,"y":0.68},{"x":1.22,"y":0.68},
{"x":0.72,"y":0.7},{"x":0.82,"y":0.7},{"x":0.92,"y":0.7},{"x":1.03,"y":0.7},{"x":1.14,"y":0.7},{"x":1.26,"y":0.7},
{"x":0.74,"y":0.72},{"x":0.85,"y":0.72},{"x":0.95,"y":0.72},{"x":1.06,"y":0.72},{"x":1.18,"y":0.72},{"x":1.3,"y":0.72},
{"x":0.78,"y":0.74},{"x":0.88,"y":0.74},{"x":0.98,"y":0.74},{"x":1.09,"y":0.74},{"x":1.21,"y":0.74},{"x":1.35,"y":0.74},
{"x":0.83,"y":0.76},{"x":0.92,"y":0.76},{"x":1.02,"y":0.76},{"x":1.13,"y":0.76},{"x":1.25,"y":0.76},{"x":1.39,"y":0.76},
{"x":0.88,"y":0.78},{"x":0.97,"y":0.78},{"x":1.07,"y":0.78},{"x":1.17,"y":0.78},{"x":1.29,"y":0.78},{"x":1.43,"y":0.78},
{"x":0.94,"y":0.8},{"x":1.02,"y":0.8},{"x":1.12,"y":0.8},{"x":1.22,"y":0.8},{"x":1.34,"y":0.8},{"x":1.48,"y":0.8},
{"x":1.0,"y":0.82},{"x":1.09,"y":0.82},{"x":1.18,"y":0.82},{"x":1.28,"y":0.82},{"x":1.4,"y":0.82},{"x":1.55,"y":0.82},
{"x":1.06,"y":0.84},{"x":1.15,"y":0.84},{"x":1.25,"y":0.84},{"x":1.36,"y":0.84},{"x":1.48,"y":0.84},{"x":1.62,"y":0.84},
{"x":1.13,"y":0.86},{"x":1.23,"y":0.86},{"x":1.33,"y":0.86},{"x":1.45,"y":0.86},{"x":1.58,"y":0.86},{"x":1.72,"y":0.86},
{"x":1.22,"y":0.88},{"x":1.32,"y":0.88},{"x":1.43,"y":0.88},{"x":1.55,"y":0.88},{"x":1.68,"y":0.88},
{"x":3.14,"y":1.185},{"x":1.96,"y":1.155},{"x":1.47,"y":1.1},{"x":1.66,"y":1.105},{"x":1.72,"y":1.105},{"x":2.55,"y":1.145},{"x":2.78,"y":1.163},{"x":3.2,"y":1.12},{"x":3.25,"y":1.085},{"x":3.39,"y":1.133},{"x":3.51,"y":1.155},{"x":3.54,"y":1.075},{"x":3.94,"y":1.124},{"x":3.06,"y":1.075},{"x":2.45,"y":1.075},{"x":2.59,"y":1.085},{"x":2.57,"y":1.055},{"x":2.06,"y":1.075},{"x":3.32,"y":1.026},{"x":3.6,"y":1.016},{"x":2.95,"y":1.007},{"x":3.22,"y":0.98},{"x":3.26,"y":0.998},{"x":3.08,"y":0.967},{"x":3.06,"y":0.93},{"x":3.14,"y":0.93},{"x":3.62,"y":0.9},{"x":3.65,"y":0.91},{"x":3.85,"y":0.94},{"x":4.06,"y":0.9},{"x":4.37,"y":0.99},{"x":4.37,"y":0.95},{"x":3.28,"y":0.77},{"x":4.21,"y":0.743},{"x":2.9,"y":0.666},{"x":2.59,"y":0.81},{"x":2.62,"y":0.91},{"x":2.48,"y":0.86},{"x":2.5,"y":0.77},{"x":2.52,"y":0.78},{"x":2.33,"y":0.9},{"x":2.39,"y":0.83},{"x":2.41,"y":0.84},{"x":2.31,"y":0.74},{"x":2.18,"y":0.86},{"x":2.2,"y":0.81},{"x":2.22,"y":0.76},{"x":2.18,"y":0.76},{"x":2.14,"y":0.81},{"x":1.96,"y":0.77},{"x":1.96,"y":0.86},{"x":1.8,"y":0.78},{"x":1.77,"y":0.73},{"x":1.72,"y":0.673},{"x":1.45,"y":0.67},{"x":1.5,"y":0.64},{"x":1.37,"y":0.63},{"x":1.26,"y":0.63},{"x":1.28,"y":0.66},{"x":2.74,"y":1.04},{"x":2.78,"y":1.02},{"x":2.71,"y":1.0},{"x":2.76,"y":0.99},{"x":2.63,"y":1.0},{"x":2.67,"y":0.995},{"x":2.45,"y":1.02},{"x":2.41,"y":1.0},{"x":2.33,"y":0.99},{"x":2.3,"y":1.01},{"x":2.37,"y":0.98},{"x":2.18,"y":1.0},{"x":2.11,"y":0.99},{"x":2.15,"y":0.97},{"x":2.07,"y":0.95},{"x":2.22,"y":0.96},{"x":1.83,"y":1.03},{"x":1.92,"y":1.02},{"x":2.03,"y":1.02},{"x":1.99,"y":1.0},{"x":1.81,"y":0.98},{"x":1.84,"y":0.96},{"x":1.73,"y":1.0},{"x":1.67,"y":0.99},{"x":1.77,"y":0.96},{"x":1.7,"y":0.95},{"x":1.24,"y":1.01},{"x":1.3,"y":0.96},
{"x":2.82,"y":0.98},{"x":2.94,"y":1.005},{"x":2.76,"y":0.94},{"x":2.79,"y":0.95},{"x":2.63,"y":0.91},{"x":2.47,"y":0.81},{"x":2.57,"y":0.79},{"x":3.61,"y":0.9},{"x":3.09,"y":0.96},
{"x":0.51,"y":0},{"x":0.8,"y":0},{"x":0.99,"y":0},{"x":1.16,"y":0},{"x":2.11,"y":0},{"x":4.88,"y":0}
]
},
"vconcat":[
 {"hconcat":[
  {"width":444,"height":231,
   "layer":[
    {"data":{"name":"diag"},"mark":{"type":"point","shape":"cross","filled":true,"size":42,"color":"#0072BD","opacity":1},
     "encoding":{"x":{"field":"x","type":"quantitative","scale":{"domain":[0,5],"nice":false},"axis":{"values":[0,1,2,3,4,5],"format":"~g","labelPadding":18}},
                 "y":{"field":"y","type":"quantitative","scale":{"domain":[0,1.2],"nice":false},"axis":{"values":[0,0.5,1],"format":"~g","labelPadding":11}}}},
    {"data":{"name":"lines"},"mark":{"type":"rule","color":"#000000","strokeWidth":1.3},"encoding":{"x":{"field":"x","type":"quantitative"},"y":{"field":"y","type":"quantitative"},"x2":{"field":"x2"},"y2":{"field":"y2"}}},
    {"data":{"name":"labA"},"mark":{"type":"text","font":"Liberation Sans","fontSize":34,"fontWeight":"bold","align":"left","baseline":"alphabetic","color":"#000000"},"encoding":{"text":{"field":"t","type":"nominal"},"x":{"datum":-0.26,"type":"quantitative"},"y":{"datum":1.285,"type":"quantitative"}}},
    {"data":{"name":"labA"},"mark":{"type":"text","font":"Liberation Sans","fontSize":27,"fontWeight":"bold","align":"center","baseline":"alphabetic","color":"#000000"},"encoding":{"text":{"field":"n","type":"nominal"},"x":{"datum":2.5,"type":"quantitative"},"y":{"datum":1.29,"type":"quantitative"}}}
   ]},
  {"width":444,"height":231,
   "layer":[
    {"data":{"name":"diag"},"mark":{"type":"point","shape":"cross","filled":true,"size":42,"color":"#0072BD","opacity":1},
     "encoding":{"x":{"field":"x","type":"quantitative","scale":{"domain":[0,5],"nice":false},"axis":{"values":[0,1,2,3,4,5],"format":"~g","labelPadding":18}},
                 "y":{"field":"y","type":"quantitative","scale":{"domain":[0,1.2],"nice":false},"axis":{"values":[0,0.5,1],"format":"~g","labelPadding":11}}}},
    {"data":{"name":"lines"},"mark":{"type":"rule","color":"#000000","strokeWidth":1.3},"encoding":{"x":{"field":"x","type":"quantitative"},"y":{"field":"y","type":"quantitative"},"x2":{"field":"x2"},"y2":{"field":"y2"}}},
    {"data":{"name":"labB"},"mark":{"type":"text","font":"Liberation Sans","fontSize":34,"fontWeight":"bold","align":"left","baseline":"alphabetic","color":"#000000"},"encoding":{"text":{"field":"t","type":"nominal"},"x":{"datum":-0.2,"type":"quantitative"},"y":{"datum":1.285,"type":"quantitative"}}},
    {"data":{"name":"labB"},"mark":{"type":"text","font":"Liberation Sans","fontSize":27,"fontWeight":"bold","align":"center","baseline":"alphabetic","color":"#000000"},"encoding":{"text":{"field":"n","type":"nominal"},"x":{"datum":2.5,"type":"quantitative"},"y":{"datum":1.29,"type":"quantitative"}}}
   ]}
 ],"spacing":112},
 {"hconcat":[
  {"width":444,"height":231,
   "layer":[
    {"data":{"name":"rean"},"mark":{"type":"point","shape":"cross","filled":true,"size":42,"color":"#0072BD","opacity":1},
     "encoding":{"x":{"field":"x","type":"quantitative","scale":{"domain":[0,5],"nice":false},"axis":{"values":[0,1,2,3,4,5],"format":"~g","labelPadding":18}},
                 "y":{"field":"y","type":"quantitative","scale":{"domain":[0,1.2],"nice":false},"axis":{"values":[0,0.5,1],"format":"~g","labelPadding":11}}}},
    {"data":{"name":"lines"},"mark":{"type":"rule","color":"#000000","strokeWidth":1.3},"encoding":{"x":{"field":"x","type":"quantitative"},"y":{"field":"y","type":"quantitative"},"x2":{"field":"x2"},"y2":{"field":"y2"}}},
    {"data":{"name":"labC"},"mark":{"type":"text","font":"Liberation Sans","fontSize":34,"fontWeight":"bold","align":"left","baseline":"alphabetic","color":"#000000"},"encoding":{"text":{"field":"t","type":"nominal"},"x":{"datum":-0.24,"type":"quantitative"},"y":{"datum":1.275,"type":"quantitative"}}},
    {"data":{"name":"labC"},"mark":{"type":"text","font":"Liberation Sans","fontSize":27,"fontWeight":"bold","align":"center","baseline":"alphabetic","color":"#000000"},"encoding":{"text":{"field":"n","type":"nominal"},"x":{"datum":2.5,"type":"quantitative"},"y":{"datum":1.29,"type":"quantitative"}}}
   ]},
  {"width":444,"height":231,
   "layer":[
    {"data":{"name":"all"},"mark":{"type":"point","shape":"cross","filled":true,"size":42,"color":"#0072BD","opacity":1},
     "encoding":{"x":{"field":"x","type":"quantitative","scale":{"domain":[0,5],"nice":false},"axis":{"values":[0,1,2,3,4,5],"format":"~g","labelPadding":18}},
                 "y":{"field":"y","type":"quantitative","scale":{"domain":[0,1.2],"nice":false},"axis":{"values":[0,0.5,1],"format":"~g","labelPadding":11}}}},
    {"data":{"name":"lines"},"mark":{"type":"rule","color":"#000000","strokeWidth":1.3},"encoding":{"x":{"field":"x","type":"quantitative"},"y":{"field":"y","type":"quantitative"},"x2":{"field":"x2"},"y2":{"field":"y2"}}},
    {"data":{"name":"labD"},"mark":{"type":"text","font":"Liberation Sans","fontSize":34,"fontWeight":"bold","align":"left","baseline":"alphabetic","color":"#000000"},"encoding":{"text":{"field":"t","type":"nominal"},"x":{"datum":-0.25,"type":"quantitative"},"y":{"datum":1.28,"type":"quantitative"}}},
    {"data":{"name":"labD"},"mark":{"type":"text","font":"Liberation Sans","fontSize":27,"fontWeight":"bold","align":"center","baseline":"alphabetic","color":"#000000"},"encoding":{"text":{"field":"n","type":"nominal"},"x":{"datum":2.5,"type":"quantitative"},"y":{"datum":1.29,"type":"quantitative"}}}
   ]}
 ],"spacing":112,
 "title":{"text":"MAEₚ/MAP","orient":"bottom","anchor":"middle","font":"DejaVu Sans","fontSize":27,"fontWeight":"normal","color":"#000000","offset":4,"dx":40}}
],
"spacing":22
}
